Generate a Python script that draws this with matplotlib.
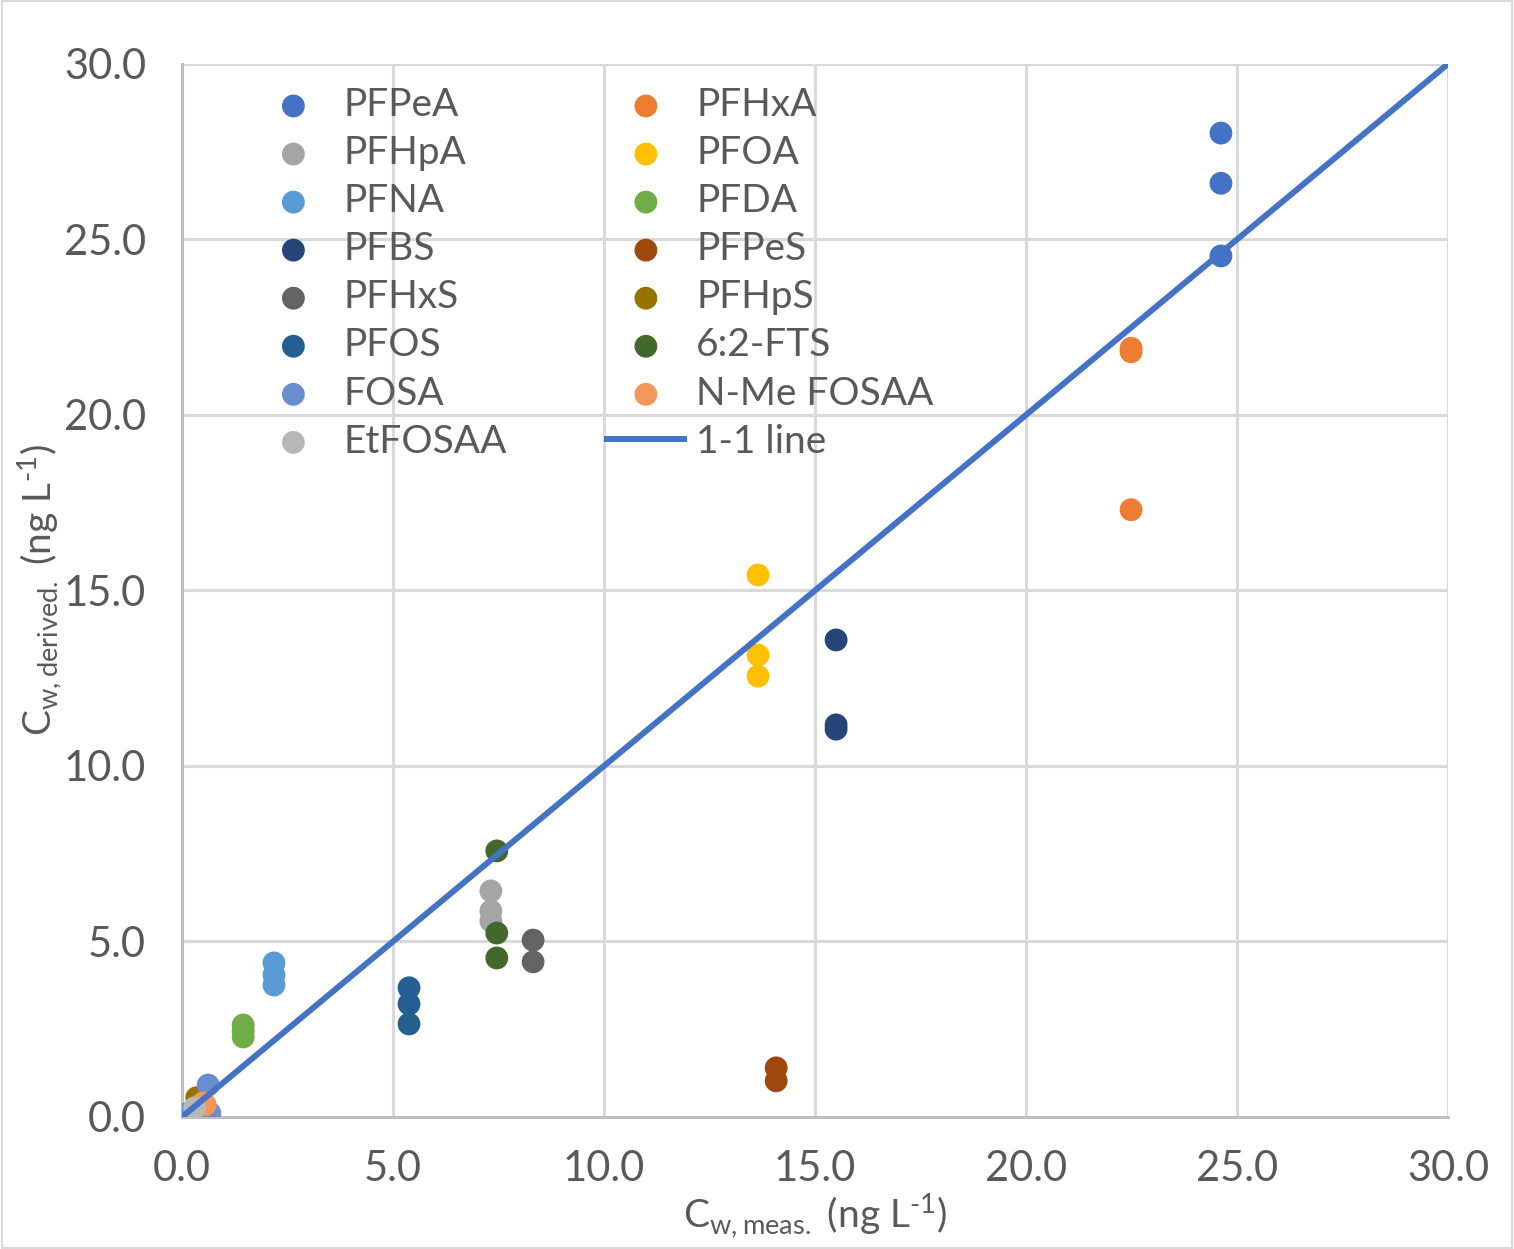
import matplotlib
matplotlib.use("Agg")
import matplotlib.pyplot as plt

plt.rcParams['font.family'] = ['Lato', 'DejaVu Sans']
plt.rcParams['mathtext.fontset'] = 'custom'
plt.rcParams['mathtext.rm'] = 'Lato'

names = ["PFPeA", "PFHxA", "PFHpA", "PFOA", "PFNA", "PFDA", "PFBS", "PFPeS",
         "PFHxS", "PFHpS", "PFOS", "6:2-FTS", "FOSA", "N-Me FOSAA", "EtFOSAA"]
colors = ["#4472C4", "#ED7D31", "#A5A5A5", "#FFC000", "#5B9BD5", "#70AD47", "#264478", "#9E480E",
          "#636363", "#997300", "#255E91", "#43682B", "#698ED0", "#F1975A", "#B7B7B7"]

x_pfpea = [24.62, 24.62, 24.62]; y_pfpea = [28.03, 26.6, 24.53]
x_pfhxa = [22.49, 22.49, 22.49]; y_pfhxa = [21.9, 21.8, 17.3]
x_pfhpa = [7.32, 7.32, 7.32]; y_pfhpa = [6.44, 5.87, 5.58]
x_pfoa = [13.65, 13.65, 13.65]; y_pfoa = [15.44, 13.16, 12.56]
x_pfna = [2.18, 2.18, 2.18]; y_pfna = [4.39, 4.05, 3.76]
x_pfda = [1.45, 1.45, 1.45]; y_pfda = [2.62, 2.45, 2.28]
x_pfbs = [15.5, 15.5, 15.5]; y_pfbs = [13.59, 11.17, 11.05]
x_pfpes = [14.08, 14.08]; y_pfpes = [1.40, 1.03]
x_pfhxs = [8.32, 8.32]; y_pfhxs = [5.04, 4.42]
x_pfhps = [0.35]; y_pfhps = [0.55]
x_pfos = [5.38, 5.38, 5.38]; y_pfos = [3.68, 3.22, 2.65]
x_fts = [7.46, 7.46, 7.46]; y_fts = [7.58, 5.24, 4.53]
x_fosa = [0.62, 0.66, 0.12]; y_fosa = [0.91, 0.11, 0.10]
x_nme = [0.55, 0.5]; y_nme = [0.35, 0.4]
x_et = [0.3]; y_et = [0.26]

xs = [x_pfpea, x_pfhxa, x_pfhpa, x_pfoa, x_pfna, x_pfda, x_pfbs, x_pfpes,
      x_pfhxs, x_pfhps, x_pfos, x_fts, x_fosa, x_nme, x_et]
ys = [y_pfpea, y_pfhxa, y_pfhpa, y_pfoa, y_pfna, y_pfda, y_pfbs, y_pfpes,
      y_pfhxs, y_pfhps, y_pfos, y_fts, y_fosa, y_nme, y_et]

line_x = [0, 30]
line_y = [0, 30]
ticks = [0, 5, 10, 15, 20, 25, 30]

FS = 30
LFS = 28
fig = plt.figure(figsize=(15.14, 12.49), dpi=100)
ax = fig.add_axes([0.1202, 0.1057, 0.8362, 0.8431])
txt = "#595959"

handles = {}
for n, c, x, y in zip(names, colors, xs, ys):
    h = ax.scatter(x, y, s=270, color=c, edgecolors='none', zorder=3, label=n)
    handles[n] = h
lh, = ax.plot(line_x, line_y, color="#4472C4", lw=4.3, zorder=4, label="1-1 line",
              solid_capstyle='butt')
handles["1-1 line"] = lh

ax.set_xlim(0, 30)
ax.set_ylim(0, 30)
ax.set_xticks(ticks)
ax.set_yticks(ticks)
ax.set_xticklabels([f"{t:.1f}" for t in ticks])
ax.set_yticklabels([f"{t:.1f}" for t in ticks])
ax.tick_params(length=0, labelsize=FS, colors=txt)
ax.tick_params(axis='y', pad=26)
ax.tick_params(axis='x', pad=24)
ax.grid(True, color="#D9D9D9", lw=2.2)
ax.set_axisbelow(True)
for s in ["top", "right"]:
    ax.spines[s].set_visible(False)
for s in ["left", "bottom"]:
    ax.spines[s].set_color("#BFBFBF")
    ax.spines[s].set_linewidth(2.2)

ax.set_xlabel("C$_{\\mathregular{w, meas.}}$ (ng L$^{\\mathregular{\u20101}}$)",
              fontsize=LFS, color=txt, labelpad=2)
ax.set_ylabel("C$_{\\mathregular{w, derived.}}$ (ng L$^{\\mathregular{\u20101}}$)",
              fontsize=LFS, color=txt, labelpad=0)

col1 = ["PFPeA", "PFHpA", "PFNA", "PFBS", "PFHxS", "PFOS", "FOSA", "EtFOSAA"]
col2 = ["PFHxA", "PFOA", "PFDA", "PFPeS", "PFHpS", "6:2-FTS", "N-Me FOSAA", "1-1 line"]
order = col1 + col2
leg = ax.legend([handles[k] for k in order], order, ncol=2, loc="upper left",
                bbox_to_anchor=(0.043, 0.9927), borderaxespad=0, frameon=False, fontsize=LFS,
                labelcolor=txt, handlelength=2.13, handletextpad=0.23,
                columnspacing=2.5, labelspacing=0.31, scatterpoints=1, borderpad=0.4)

fig.patches.append(plt.Rectangle((0.001, 0.001), 0.998, 0.998, transform=fig.transFigure,
                                 fill=False, edgecolor="#D9D9D9", lw=1.5))
fig.savefig("out.png", dpi=100)
